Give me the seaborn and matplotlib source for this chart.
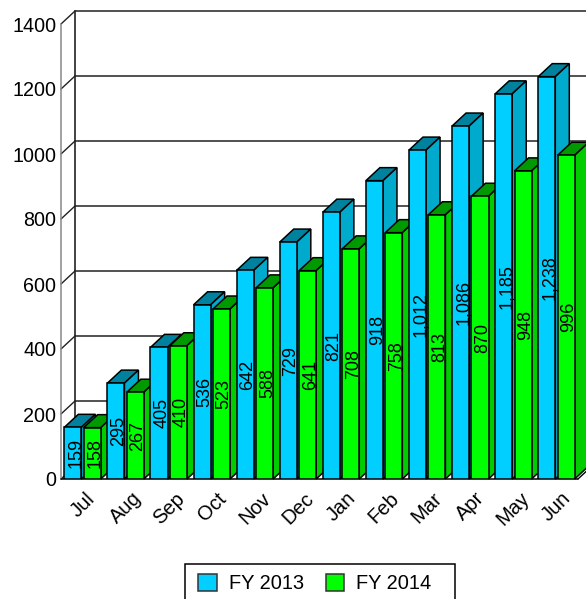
# FY 2013 vs FY 2014 monthly totals, faux 3D bars

import pandas as pd
import matplotlib
matplotlib.use("Agg")
import matplotlib.pyplot as plt
from matplotlib.patches import Polygon, Rectangle
import seaborn as sns

months = ["Jul", "Aug", "Sep", "Oct", "Nov", "Dec", "Jan", "Feb", "Mar", "Apr", "May", "Jun"]
fy2013 = [159, 295, 405, 536, 642, 729, 821, 918, 1012, 1086, 1185, 1238]
fy2014 = [158, 267, 410, 523, 588, 641, 708, 758, 813, 870, 948, 996]
series_names = ["FY 2013", "FY 2014"]
y_ticks = [0, 200, 400, 600, 800, 1000, 1200, 1400]

front_colors = ["#00CFFF", "#00FF00"]
top_colors = ["#00829E", "#009900"]
side_colors = ["#00AACC", "#00CC00"]

sns.set_theme(style="white")
plt.rcParams["font.family"] = ["Liberation Sans", "DejaVu Sans"]

df = pd.DataFrame({
    "month": months * 2,
    "value": fy2013 + fy2014,
    "series": [series_names[0]] * 12 + [series_names[1]] * 12,
})

W, H = 586, 599
fig = plt.figure(figsize=(W / 100, H / 100), dpi=100)
ax = fig.add_axes([61 / W, 120 / H, 517 / W, 455 / H])
ax.patch.set_alpha(0)

sns.barplot(data=df, x="month", y="value", hue="series", palette=front_colors, saturation=1,
            width=0.9, gap=0.12, edgecolor="black", linewidth=1.1, legend=False, ax=ax)
ax.set_xlim(-0.5, 11.5)
ax.set_ylim(0, 1400)
ax.set_yticks(y_ticks)
ax.set_xlabel("")
ax.set_ylabel("")
sns.despine(ax=ax, left=True, bottom=True, top=True, right=True)
ax.tick_params(axis="y", length=0, pad=3.5, labelsize=14.2, labelcolor="black")
ax.tick_params(axis="x", length=0, pad=7, labelsize=14.5, labelcolor="black", rotation=45)

# depth of the fake 3D, in data units (14px across, 13px up)
dx = 14 / (517 / 12)
dy = 13 / (455 / 1400)

# back wall and its grid
x_left = -0.5
x_right = 11.5
for v in y_ticks:
    ax.plot([x_left + dx, x_right + dx], [v + dy, v + dy], color="#222222", lw=1.1, zorder=1, clip_on=False)
    ax.plot([x_left, x_left + dx], [v, v + dy], color="#222222", lw=1, zorder=1, clip_on=False)
ax.plot([x_left, x_left], [0, 1400], color="#888888", lw=1.1, zorder=1, clip_on=False)
ax.plot([x_left + dx, x_left + dx], [dy, 1400 + dy], color="#222222", lw=1.2, zorder=1, clip_on=False)
ax.plot([x_left, x_right], [0, 0], color="black", lw=1.1, zorder=1, clip_on=False)
ax.plot([x_right, x_right + dx], [0, dy], color="black", lw=1, zorder=1, clip_on=False)

# top and side faces, left to right so nearer bars cover the ones before
for s, container in enumerate(ax.containers):
    for i, bar in enumerate(container):
        x = bar.get_x()
        w = bar.get_width()
        h = bar.get_height()
        z = 3 + i * 2 + s * 1
        bar.set_zorder(z + 0.5)
        top = [(x, h), (x + w, h), (x + w + dx, h + dy), (x + dx, h + dy)]
        side = [(x + w, 0), (x + w + dx, dy), (x + w + dx, h + dy), (x + w, h)]
        ax.add_patch(Polygon(top, facecolor=top_colors[s], edgecolor="black", lw=1.1, zorder=z, clip_on=False))
        ax.add_patch(Polygon(side, facecolor=side_colors[s], edgecolor="black", lw=1.1, zorder=z, clip_on=False))
    labels = ax.bar_label(container, fmt="{:,.0f}", label_type="center", rotation=90,
                          fontsize=13, color="black")
    for t in labels:
        t.set_zorder(100)
        t.xyann = (2, 0)

# legend box runs off the bottom of the picture
fig.add_artist(Rectangle((185 / W, -0.02), 270 / W, 1 - 564 / H + 0.02, transform=fig.transFigure,
                         facecolor="white", edgecolor="black", lw=1.1))
handles = [Rectangle((0, 0), 1, 1, facecolor=c, edgecolor="#333333", lw=1.1) for c in front_colors]
fig.legend(handles, series_names, loc="upper left", bbox_to_anchor=(198 / W, 1 - 574 / H),
           frameon=False, fontsize=14.4, ncol=2, borderpad=0, borderaxespad=0,
           handlelength=0.93, handleheight=0.93, handletextpad=0.6, columnspacing=1.1, labelcolor="black")

fig.savefig("out.png", dpi=100)
